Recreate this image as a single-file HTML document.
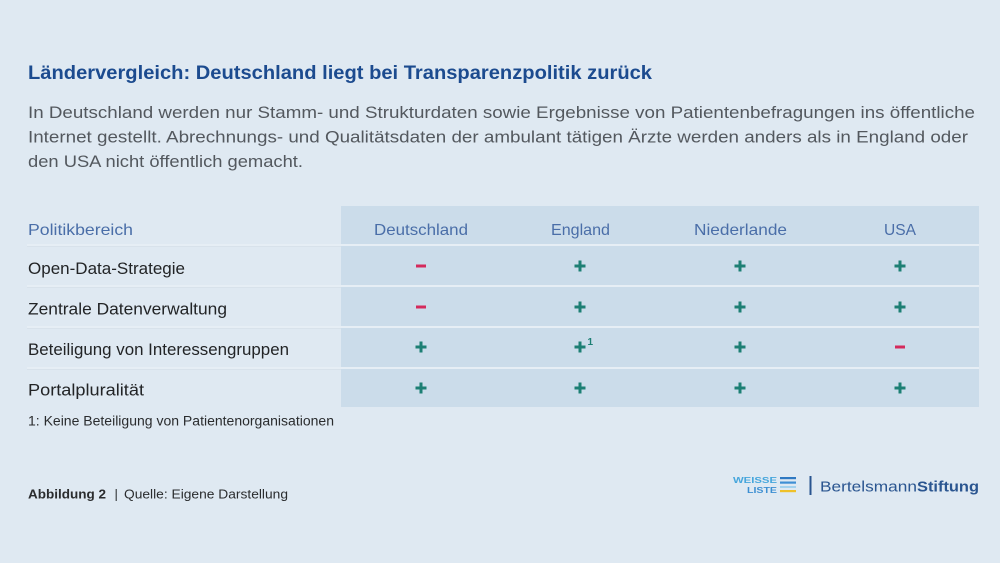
<!DOCTYPE html>
<html>
<head>
<meta charset="utf-8">
<style>
html,body{margin:0;padding:0;background:#dfe9f2;}
svg{display:block;}
text{font-family:"Liberation Sans",sans-serif;}
</style>
</head>
<body>
<svg width="1000" height="563" viewBox="0 0 1000 563" xmlns="http://www.w3.org/2000/svg">
  <rect x="0" y="0" width="1000" height="563" fill="#dfe9f2"/>

  <!-- Title -->
  <text x="28" y="79" font-size="19" font-weight="bold" fill="#1c4b8f" textLength="624" lengthAdjust="spacingAndGlyphs">Ländervergleich: Deutschland liegt bei Transparenzpolitik zurück</text>

  <!-- Body text -->
  <g font-size="16.5" fill="#53585e">
    <text x="28" y="118" textLength="947" lengthAdjust="spacingAndGlyphs">In Deutschland werden nur Stamm- und Strukturdaten sowie Ergebnisse von Patientenbefragungen ins öffentliche</text>
    <text x="28" y="142.5" textLength="940" lengthAdjust="spacingAndGlyphs">Internet gestellt. Abrechnungs- und Qualitätsdaten der ambulant tätigen Ärzte werden anders als in England oder</text>
    <text x="28" y="167" textLength="275" lengthAdjust="spacingAndGlyphs">den USA nicht öffentlich gemacht.</text>
  </g>

  <!-- Table value area -->
  <rect x="341" y="206" width="638" height="38" fill="#cbdcea"/>
  <rect x="341" y="246" width="638" height="39" fill="#cbdcea"/>
  <rect x="341" y="287" width="638" height="39" fill="#cbdcea"/>
  <rect x="341" y="328" width="638" height="39" fill="#cbdcea"/>
  <rect x="341" y="369" width="638" height="38" fill="#cbdcea"/>
  <!-- separators -->
  <g fill="#e6eef5">
    <rect x="27" y="244" width="952" height="2"/>
    <rect x="27" y="285" width="952" height="2"/>
    <rect x="27" y="326" width="952" height="2"/>
    <rect x="27" y="367" width="952" height="2"/>
  </g>
  <g fill="#d4dee8">
    <rect x="27" y="246" width="314" height="0.7"/>
    <rect x="27" y="287" width="314" height="0.7"/>
    <rect x="27" y="328" width="314" height="0.7"/>
    <rect x="27" y="369" width="314" height="0.7"/>
  </g>

  <!-- Header labels -->
  <g font-size="16" fill="#4a6ea8">
    <text x="28" y="235" textLength="105" lengthAdjust="spacingAndGlyphs">Politikbereich</text>
    <text x="374" y="235" textLength="94" lengthAdjust="spacingAndGlyphs">Deutschland</text>
    <text x="551" y="235" textLength="59" lengthAdjust="spacingAndGlyphs">England</text>
    <text x="694" y="235" textLength="93" lengthAdjust="spacingAndGlyphs">Niederlande</text>
    <text x="884" y="235" textLength="32" lengthAdjust="spacingAndGlyphs">USA</text>
  </g>

  <!-- Row labels -->
  <g font-size="16.5" fill="#222426">
    <text x="28" y="274" textLength="157" lengthAdjust="spacingAndGlyphs">Open-Data-Strategie</text>
    <text x="28" y="314.5" textLength="199" lengthAdjust="spacingAndGlyphs">Zentrale Datenverwaltung</text>
    <text x="28" y="355" textLength="261" lengthAdjust="spacingAndGlyphs">Beteiligung von Interessengruppen</text>
    <text x="28" y="395.5" textLength="116" lengthAdjust="spacingAndGlyphs">Portalpluralität</text>
  </g>

  <!-- Signs -->
  <defs>
    <g id="p">
      <rect x="-5.5" y="-1.5" width="11" height="3" fill="#1d7f74"/>
      <rect x="-1.5" y="-5.5" width="3" height="11" fill="#1d7f74"/>
    </g>
    <g id="m">
      <rect x="-5" y="-1.5" width="10" height="3" fill="#d42a5c"/>
    </g>
  </defs>
  <!-- Row 1 -->
  <use href="#m" x="421" y="266"/>
  <use href="#p" x="580" y="266"/>
  <use href="#p" x="740" y="266"/>
  <use href="#p" x="900" y="266"/>
  <!-- Row 2 -->
  <use href="#m" x="421" y="307"/>
  <use href="#p" x="580" y="307"/>
  <use href="#p" x="740" y="307"/>
  <use href="#p" x="900" y="307"/>
  <!-- Row 3 -->
  <use href="#p" x="421" y="347"/>
  <use href="#p" x="580" y="347"/>
  <use href="#p" x="740" y="347"/>
  <use href="#m" x="900" y="347"/>
  <text x="587.5" y="345" font-size="10" font-weight="bold" fill="#1d7f74">1</text>
  <!-- Row 4 -->
  <use href="#p" x="421" y="388"/>
  <use href="#p" x="580" y="388"/>
  <use href="#p" x="740" y="388"/>
  <use href="#p" x="900" y="388"/>

  <!-- Footnote -->
  <text x="28" y="425.5" font-size="13.5" fill="#2a2c2e" textLength="306" lengthAdjust="spacingAndGlyphs">1: Keine Beteiligung von Patientenorganisationen</text>

  <!-- Source -->
  <text x="28" y="498.5" font-size="13" font-weight="bold" fill="#2a2c2e" textLength="78" lengthAdjust="spacingAndGlyphs">Abbildung 2</text>
  <text x="114.5" y="498.5" font-size="13" fill="#2a2c2e">|</text>
  <text x="124" y="498.5" font-size="13" fill="#2a2c2e" textLength="164" lengthAdjust="spacingAndGlyphs">Quelle: Eigene Darstellung</text>

  <!-- Logo Weisse Liste -->
  <text x="733" y="483" font-size="8.5" font-weight="bold" fill="#46a6dc" textLength="44" lengthAdjust="spacingAndGlyphs">WEISSE</text>
  <text x="747" y="493" font-size="8.5" font-weight="bold" fill="#3d8fd2" textLength="30" lengthAdjust="spacingAndGlyphs">LISTE</text>
  <rect x="780" y="477" width="16" height="2.2" fill="#2f79c2"/>
  <rect x="780" y="481.5" width="16" height="2.2" fill="#3f8fd4"/>
  <rect x="780" y="486" width="16" height="2" fill="#a3d2ee"/>
  <rect x="780" y="490" width="16" height="2.2" fill="#efc12a"/>
  <rect x="809.5" y="476" width="2" height="19" fill="#2a5590"/>
  <text x="820" y="491.5" font-size="15" fill="#2a5590" textLength="97" lengthAdjust="spacingAndGlyphs">Bertelsmann</text>
  <text x="917" y="491.5" font-size="15" font-weight="bold" fill="#2a5590" textLength="62" lengthAdjust="spacingAndGlyphs">Stiftung</text>
</svg>
</body>
</html>
